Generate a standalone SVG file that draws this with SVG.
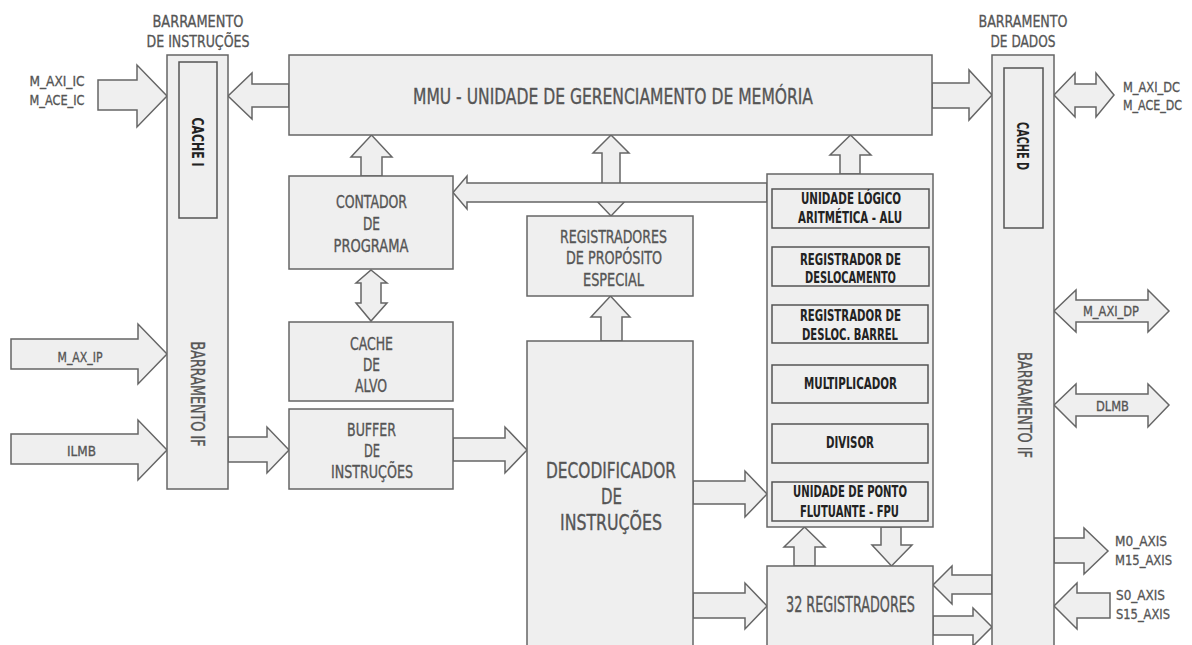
<svg xmlns="http://www.w3.org/2000/svg" width="1192" height="645" viewBox="0 0 1192 645">
<style>
.box{fill:#efefef;stroke:#666;stroke-width:1.5}
.inner{fill:#efefef;stroke:#555;stroke-width:1.5}
.arr{fill:#efefef;stroke:#666;stroke-width:1.5;stroke-linejoin:miter}
text{font-family:"DejaVu Sans Condensed","DejaVu Sans",sans-serif;text-anchor:middle}
.t{fill:#555;font-size:18px;stroke:#555;stroke-width:0.35}
.s{fill:#555;font-size:14px;stroke:#555;stroke-width:0.3}
.h{fill:#555;font-size:16px;stroke:#555;stroke-width:0.3}
.d{fill:#222;font-size:15px;font-weight:bold}
.big{fill:#555;font-size:22px;stroke:#555;stroke-width:0.35}
.st{text-anchor:start}
</style>
<rect width="1192" height="645" fill="#ffffff"/>

<g id="connectors">
<polygon class="arr" points="98,80 137,80 137,65 167,96 137,127 137,110 98,110"/>
<polygon class="arr" points="289,84 252,84 252,73 228,96 252,119 252,107 289,107"/>
<polygon class="arr" points="932,83 969,83 969,70 992,95 969,120 969,108 932,108"/>
<polygon class="arr" points="1054,95 1075,73 1075,84 1096,84 1096,73 1114,95 1096,117 1096,107 1075,107 1075,117"/>
<polygon class="arr" points="361,176 361,157 351,157 371.5,135 392,157 382,157 382,176"/>
<polygon class="arr" points="371,270 387,283 381,283 381,303 387,303 371,321 356,303 361,303 361,283 356,283"/>
<polygon class="arr" points="228,437 267,437 267,427 289,450 267,473 267,462 228,462"/>
<polygon class="arr" points="11,339 138,339 138,324 167,354 138,384 138,369 11,369"/>
<polygon class="arr" points="11,434 138,434 138,420 167,450 138,480 138,464 11,464"/>
<polygon class="arr" points="611,135 629,153 620,153 620,197 629,197 611,216 593,197 602,197 602,153 593,153"/>
<polygon class="arr" points="767,183 467,183 467,176 453,192.5 467,209 467,202 767,202"/>
<polygon class="arr" points="601,341 601,317 591,317 610.5,296 630,317 622,317 622,341"/>
<polygon class="arr" points="453,438 505,438 505,427 527,450 505,473 505,461 453,461"/>
<polygon class="arr" points="840,174 840,155 830,155 850.5,135 871,155 860,155 860,174"/>
<polygon class="arr" points="693,481 745,481 745,471 767,494 745,517 745,504 693,504"/>
<polygon class="arr" points="794,566 794,547 784,547 804.5,527 825,547 815,547 815,566"/>
<polygon class="arr" points="881,527 881,545 872,545 891.5,566 912,545 901,545 901,527"/>
<polygon class="arr" points="693,593 745,593 745,583 767,606 745,629 745,618 693,618"/>
<polygon class="arr" points="992,575 952,575 952,566 933,585 952,604 952,594 992,594"/>
<polygon class="arr" points="933,616 973,616 973,608 992,627 973,646 973,635 933,635"/>
<polygon class="arr" points="1054,311 1076,290 1076,300 1148,300 1148,290 1169,311 1148,332 1148,322 1076,322 1076,332"/>
<polygon class="arr" points="1054,405 1076,384 1076,394 1148,394 1148,384 1169,405 1148,427 1148,416 1076,416 1076,427"/>
<polygon class="arr" points="1054,538 1084,538 1084,528 1108,551 1084,574 1084,563 1054,563"/>
<polygon class="arr" points="1110,593 1077,593 1077,583 1054,606 1077,629 1077,618 1110,618"/>
</g>

<g id="labels">
<text class="s" x="57" y="86" textLength="55" lengthAdjust="spacingAndGlyphs">M_AXI_IC</text>
<text class="s" x="57" y="105" textLength="55" lengthAdjust="spacingAndGlyphs">M_ACE_IC</text>
<text class="s st" x="1123" y="92" textLength="57" lengthAdjust="spacingAndGlyphs">M_AXI_DC</text>
<text class="s st" x="1123" y="110" textLength="59" lengthAdjust="spacingAndGlyphs">M_ACE_DC</text>
<text class="s" x="80" y="362" textLength="45" lengthAdjust="spacingAndGlyphs">M_AX_IP</text>
<text class="s" x="81.5" y="456" textLength="29" lengthAdjust="spacingAndGlyphs">ILMB</text>
<text class="s" x="1111" y="316" textLength="56" lengthAdjust="spacingAndGlyphs">M_AXI_DP</text>
<text class="s" x="1112.5" y="411" textLength="33" lengthAdjust="spacingAndGlyphs">DLMB</text>
<text class="s st" x="1115" y="546" textLength="52" lengthAdjust="spacingAndGlyphs">M0_AXIS</text>
<text class="s st" x="1115" y="565" textLength="57" lengthAdjust="spacingAndGlyphs">M15_AXIS</text>
<text class="s st" x="1116" y="600" textLength="49" lengthAdjust="spacingAndGlyphs">S0_AXIS</text>
<text class="s st" x="1116" y="619" textLength="54" lengthAdjust="spacingAndGlyphs">S15_AXIS</text>
</g>

<g id="bus-instrucoes">
<text class="h" x="198" y="27" textLength="91" lengthAdjust="spacingAndGlyphs">BARRAMENTO</text>
<text class="h" x="198" y="47" textLength="103" lengthAdjust="spacingAndGlyphs">DE INSTRUÇÕES</text>
<rect class="box" x="167" y="55" width="61" height="434"/>
<text class="t" style="font-size:19px" x="197.5" y="401" textLength="105" lengthAdjust="spacingAndGlyphs" transform="rotate(90 197.5 394)">BARRAMENTO IF</text>
</g>
<g id="cache-i">
<rect class="inner" x="179" y="62" width="38" height="156"/>
<text class="d" x="198" y="148" textLength="49" lengthAdjust="spacingAndGlyphs" transform="rotate(90 198 142)">CACHE I</text>
</g>

<g id="bus-dados">
<text class="h" x="1023" y="27" textLength="89" lengthAdjust="spacingAndGlyphs">BARRAMENTO</text>
<text class="h" x="1023" y="47" textLength="65" lengthAdjust="spacingAndGlyphs">DE DADOS</text>
<rect class="box" x="992" y="55" width="62" height="600"/>
<text class="t" style="font-size:19px" x="1025" y="412" textLength="106" lengthAdjust="spacingAndGlyphs" transform="rotate(90 1025 405)">BARRAMENTO IF</text>
</g>
<g id="cache-d">
<rect class="inner" x="1004" y="68" width="39" height="160"/>
<text class="d" x="1023" y="152" textLength="48" lengthAdjust="spacingAndGlyphs" transform="rotate(90 1023 146)">CACHE D</text>
</g>

<g id="mmu">
<rect class="box" x="289" y="55" width="643" height="80"/>
<text class="big" x="613" y="104" textLength="400" lengthAdjust="spacingAndGlyphs">MMU - UNIDADE DE GERENCIAMENTO DE MEMÓRIA</text>
</g>

<g id="contador">
<rect class="box" x="289" y="176" width="164" height="93"/>
<text class="t" x="371.5" y="208" textLength="71" lengthAdjust="spacingAndGlyphs">CONTADOR</text>
<text class="t" x="371.5" y="230" textLength="17" lengthAdjust="spacingAndGlyphs">DE</text>
<text class="t" x="371" y="252" textLength="75" lengthAdjust="spacingAndGlyphs">PROGRAMA</text>
</g>

<g id="cache-alvo">
<rect class="box" x="289" y="322" width="164" height="79"/>
<text class="t" x="371.5" y="350" textLength="43" lengthAdjust="spacingAndGlyphs">CACHE</text>
<text class="t" x="371.5" y="371" textLength="17" lengthAdjust="spacingAndGlyphs">DE</text>
<text class="t" x="371" y="392" textLength="32" lengthAdjust="spacingAndGlyphs">ALVO</text>
</g>

<g id="buffer">
<rect class="box" x="289" y="409" width="164" height="80"/>
<text class="t" x="371.5" y="436" textLength="49" lengthAdjust="spacingAndGlyphs">BUFFER</text>
<text class="t" x="372" y="457" textLength="16" lengthAdjust="spacingAndGlyphs">DE</text>
<text class="t" x="372" y="478" textLength="82" lengthAdjust="spacingAndGlyphs">INSTRUÇÕES</text>
</g>

<g id="reg-especial">
<rect class="box" x="527" y="216" width="166" height="80"/>
<text class="t" x="613.5" y="243" textLength="107" lengthAdjust="spacingAndGlyphs">REGISTRADORES</text>
<text class="t" x="614" y="264" textLength="96" lengthAdjust="spacingAndGlyphs">DE PROPÓSITO</text>
<text class="t" x="613.5" y="286" textLength="61" lengthAdjust="spacingAndGlyphs">ESPECIAL</text>
</g>

<g id="decodificador">
<rect class="box" x="527" y="341" width="166" height="320"/>
<text class="big" style="font-size:21px" x="611" y="478" textLength="130" lengthAdjust="spacingAndGlyphs">DECODIFICADOR</text>
<text class="big" style="font-size:21px" x="611.5" y="504" textLength="21" lengthAdjust="spacingAndGlyphs">DE</text>
<text class="big" style="font-size:21px" x="611" y="530" textLength="102" lengthAdjust="spacingAndGlyphs">INSTRUÇÕES</text>
</g>

<g id="unidade-execucao">
<rect class="box" x="767" y="174" width="166" height="353"/>
</g>
<g id="alu">
<rect class="inner" x="772" y="189" width="157" height="39"/>
<text class="d" x="851" y="204" textLength="100" lengthAdjust="spacingAndGlyphs">UNIDADE LÓGICO</text>
<text class="d" x="850" y="223" textLength="104" lengthAdjust="spacingAndGlyphs">ARITMÉTICA - ALU</text>
</g>
<g id="reg-deslocamento">
<rect class="inner" x="772" y="247" width="157" height="39"/>
<text class="d" x="850.5" y="265" textLength="101" lengthAdjust="spacingAndGlyphs">REGISTRADOR DE</text>
<text class="d" x="850.5" y="283" textLength="91" lengthAdjust="spacingAndGlyphs">DESLOCAMENTO</text>
</g>
<g id="reg-barrel">
<rect class="inner" x="772" y="305" width="156" height="38"/>
<text class="d" x="850.5" y="321" textLength="101" lengthAdjust="spacingAndGlyphs">REGISTRADOR DE</text>
<text class="d" x="850" y="340" textLength="96" lengthAdjust="spacingAndGlyphs">DESLOC. BARREL</text>
</g>
<g id="multiplicador">
<rect class="inner" x="772" y="365" width="156" height="38"/>
<text class="d" x="850.5" y="389" textLength="93" lengthAdjust="spacingAndGlyphs">MULTIPLICADOR</text>
</g>
<g id="divisor">
<rect class="inner" x="772" y="424" width="156" height="39"/>
<text class="d" x="850" y="448" textLength="48" lengthAdjust="spacingAndGlyphs">DIVISOR</text>
</g>
<g id="fpu">
<rect class="inner" x="772" y="482" width="156" height="39"/>
<text class="d" x="850" y="497" textLength="114" lengthAdjust="spacingAndGlyphs">UNIDADE DE PONTO</text>
<text class="d" x="849.5" y="517" textLength="99" lengthAdjust="spacingAndGlyphs">FLUTUANTE - FPU</text>
</g>

<g id="registradores-32">
<rect class="box" x="767" y="566" width="166" height="95"/>
<text class="big" x="850.5" y="612" textLength="129" lengthAdjust="spacingAndGlyphs">32 REGISTRADORES</text>
</g>
</svg>
